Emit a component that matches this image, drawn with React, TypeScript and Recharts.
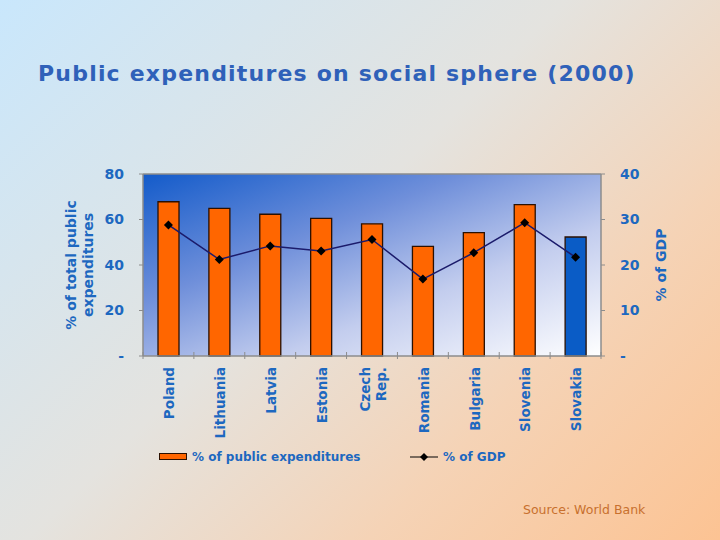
import { Bar, Cell, ComposedChart, CartesianGrid, Line, ReferenceLine, XAxis, YAxis } from "recharts";

const countries = ["Poland", "Lithuania", "Latvia", "Estonia", "Czech Rep.", "Romania", "Bulgaria", "Slovenia", "Slovakia"];
const publicShare = [67.8, 64.9, 62.3, 60.5, 58.1, 48.2, 54.2, 66.5, 52.3];
const gdpShare = [28.8, 21.2, 24.2, 23.1, 25.6, 16.9, 22.7, 29.3, 21.7];
const leftTicks = [0, 20, 40, 60, 80];
const rightTicks = [0, 10, 20, 30, 40];
const seriesNames = ["% of public expenditures", "% of GDP"];

const data = countries.map((name, i) => ({ name, share: publicShare[i], gdp: gdpShare[i] }));

const BLUE_TEXT = "#1d68c0";
const AXIS_GRAY = "#8c8c8c";
const FONT = "'DejaVu Sans', Verdana, sans-serif";

function fmtTick(v: number) {
  return v === 0 ? "-" : String(v);
}

function CountryTick(props: any) {
  const { x, y, payload, index, visibleTicksCount } = props;
  const half = payload && payload.offset ? payload.offset : 25.4;
  const lines = String(payload.value).split(" ");
  const isLast = index === (visibleTicksCount ?? countries.length) - 1;
  return (
    <g>
      <line x1={x - half} y1={y - 4} x2={x - half} y2={y + 3} stroke={AXIS_GRAY} />
      {isLast && <line x1={x + half} y1={y - 4} x2={x + half} y2={y + 3} stroke={AXIS_GRAY} />}
      <g transform={`translate(${x + 1},${y + 11})`}>
        <text
          transform="rotate(-90)"
          textAnchor="end"
          fill={BLUE_TEXT}
          fontFamily={FONT}
          fontWeight="bold"
          fontSize={13.5}
        >
          {lines.map((l, i) => (
            <tspan key={l} x={0} dy={i === 0 ? `${0.35 - (lines.length - 1) * 0.6}em` : "1.2em"}>
              {l}
            </tspan>
          ))}
        </text>
      </g>
    </g>
  );
}

function Diamond(props: any) {
  const { cx, cy } = props;
  if (cx == null || cy == null) return null;
  const r = 4.5;
  return <polygon points={`${cx},${cy - r} ${cx + r},${cy} ${cx},${cy + r} ${cx - r},${cy}`} fill="#000" />;
}

function LeftLabel(props: any) {
  const vb = props.viewBox || {};
  const cy = (vb.y ?? 174) + (vb.height ?? 182) / 2;
  return (
    <text
      transform={`translate(80,${cy}) rotate(-90)`}
      textAnchor="middle"
      fill={BLUE_TEXT}
      fontFamily={FONT}
      fontWeight="bold"
      fontSize={14}
    >
      <tspan x={0} dy="-0.3em">% of total public</tspan>
      <tspan x={0} dy="1.25em">expenditures</tspan>
    </text>
  );
}

function RightLabel(props: any) {
  const vb = props.viewBox || {};
  const cy = (vb.y ?? 174) + (vb.height ?? 182) / 2;
  return (
    <text
      transform={`translate(666,${cy}) rotate(-90)`}
      textAnchor="middle"
      fill={BLUE_TEXT}
      fontFamily={FONT}
      fontWeight="bold"
      fontSize={14}
    >
      {"% of GDP"}
    </text>
  );
}

export default function App() {
  return (
    <div
      style={{
        position: "absolute",
        left: 0,
        top: 0,
        width: 720,
        height: 540,
        overflow: "hidden",
        background: "linear-gradient(135deg, #c9e7fc 0%, #e4e3df 45%, #f5d3b6 72%, #fcc393 100%)",
        fontFamily: FONT,
      }}
    >
      <div
        style={{
          position: "absolute",
          left: 38,
          top: 61,
          fontSize: 22,
          letterSpacing: 1.2,
          fontWeight: "bold",
          color: "#2f61b9",
          whiteSpace: "nowrap",
        }}
      >
        Public expenditures on social sphere (2000)
      </div>

      <ComposedChart
        width={720}
        height={540}
        data={data}
        margin={{ top: 174, right: 0, bottom: 84, left: 0 }}
        style={{ position: "absolute", left: 0, top: 0 }}
      >
        <defs>
          <linearGradient id="plotBg" x1="0" y1="0" x2="1" y2="1">
            <stop offset="0%" stopColor="#135bca" />
            <stop offset="35%" stopColor="#6f8fda" />
            <stop offset="65%" stopColor="#c3cdee" />
            <stop offset="100%" stopColor="#ffffff" />
          </linearGradient>
        </defs>
        <CartesianGrid horizontal={false} vertical={false} fill="url(#plotBg)" yAxisId="left" />
        <XAxis
          dataKey="name"
          height={100}
          interval={0}
          tickLine={false}
          tickSize={0}
          tickMargin={0}
          axisLine={{ stroke: AXIS_GRAY, strokeWidth: 1.5 }}
          tick={<CountryTick />}
        />
        <YAxis
          yAxisId="left"
          orientation="left"
          width={143}
          domain={[0, 80]}
          ticks={leftTicks}
          interval={0}
          tickFormatter={fmtTick}
          tickSize={4}
          tickMargin={15}
          axisLine={{ stroke: AXIS_GRAY, strokeWidth: 1.5 }}
          tickLine={{ stroke: AXIS_GRAY }}
          tick={{ fill: BLUE_TEXT, fontFamily: FONT, fontWeight: "bold", fontSize: 14 }}
          label={{ content: <LeftLabel /> }}
        />
        <YAxis
          yAxisId="right"
          orientation="right"
          width={119}
          domain={[0, 40]}
          ticks={rightTicks}
          interval={0}
          tickFormatter={fmtTick}
          tickSize={4}
          tickMargin={15}
          axisLine={{ stroke: AXIS_GRAY, strokeWidth: 1.5 }}
          tickLine={{ stroke: AXIS_GRAY }}
          tick={{ fill: BLUE_TEXT, fontFamily: FONT, fontWeight: "bold", fontSize: 14, textAnchor: "start" }}
          label={{ content: <RightLabel /> }}
        />
        <ReferenceLine yAxisId="left" y={80} stroke={AXIS_GRAY} strokeWidth={1.5} />
        <Bar
          yAxisId="left"
          dataKey="share"
          name={seriesNames[0]}
          barSize={21}
          fill="#ff6600"
          stroke="#2b1000"
          strokeWidth={1.3}
          isAnimationActive={false}
        >
          {data.map((d) => (
            <Cell key={d.name} fill={d.name === "Slovakia" ? "#0a5cc6" : "#ff6600"} />
          ))}
        </Bar>
        <Line
          yAxisId="right"
          dataKey="gdp"
          name={seriesNames[1]}
          type="linear"
          stroke="#1b1b6b"
          strokeWidth={1.5}
          dot={<Diamond />}
          activeDot={false}
          isAnimationActive={false}
        />
      </ComposedChart>

      <div
        style={{
          position: "absolute",
          left: 159,
          top: 450,
          display: "flex",
          alignItems: "center",
          fontSize: 12,
          fontWeight: "bold",
          color: BLUE_TEXT,
          whiteSpace: "nowrap",
        }}
      >
        <svg width={28} height={8} style={{ marginRight: 5 }}>
          <rect x={0.5} y={0.5} width={27} height={6} fill="#ff6600" stroke="#2b1000" />
        </svg>
        <span style={{ width: 218 }}>{seriesNames[0]}</span>
        <svg width={28} height={10} style={{ marginRight: 5 }}>
          <line x1={0} y1={5} x2={28} y2={5} stroke="#000" strokeWidth={1} />
          <polygon points="14,1 18,5 14,9 10,5" fill="#000" />
        </svg>
        <span>{seriesNames[1]}</span>
      </div>

      <div
        style={{
          position: "absolute",
          left: 523,
          top: 502,
          fontSize: 12.5,
          color: "#c8702e",
          whiteSpace: "nowrap",
        }}
      >
        Source: World Bank
      </div>
    </div>
  );
}
